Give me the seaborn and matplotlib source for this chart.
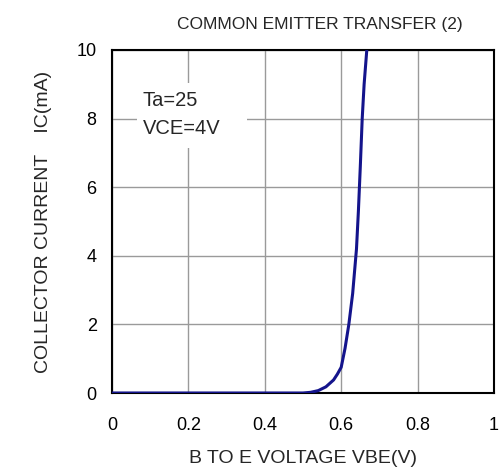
import matplotlib
matplotlib.use("Agg")
import matplotlib.pyplot as plt
import matplotlib.patches as mpatches
import seaborn as sns
import pandas as pd

vbe = [0.0, 0.50, 0.52, 0.54, 0.56, 0.58, 0.59, 0.60, 0.61, 0.62, 0.63, 0.64, 0.645, 0.65, 0.655, 0.66, 0.667]
ic = [0.0, 0.0, 0.02, 0.07, 0.18, 0.38, 0.55, 0.75, 1.3, 2.0, 2.9, 4.2, 5.3, 6.6, 8.0, 9.0, 10.0]
xticks = [0, 0.2, 0.4, 0.6, 0.8, 1]
xticklabels = ["0", "0.2", "0.4", "0.6", "0.8", "1"]
yticks = [0, 2, 4, 6, 8, 10]

sns.set_style("white")
plt.rcParams['font.family'] = ['Liberation Sans', 'DejaVu Sans']

df = pd.DataFrame({"VBE": vbe, "IC": ic})
fig = plt.figure(figsize=(5.03, 4.75), dpi=100)
ax = fig.add_axes([112/503, 1 - 393/475, (494-112)/503, (393-50)/475])
sns.lineplot(data=df, x="VBE", y="IC", ax=ax, color="#14148c", linewidth=2.2, sort=False, zorder=3)
ax.set_xlim(0, 1)
ax.set_ylim(0, 10)
ax.set_xticks(xticks)
ax.set_xticklabels(xticklabels)
ax.set_yticks(yticks)
ax.grid(True, color="#9a9a9a", linewidth=1)
ax.tick_params(direction="in", length=6, width=1, colors="black", labelsize=13, pad=17)
ax.tick_params(axis="y", pad=11)
for s in ax.spines.values():
    s.set_color("black")
    s.set_linewidth(1.5)
ax.set_xlabel("B TO E VOLTAGE VBE(V)", fontsize=14, labelpad=12)
ax.set_ylabel("COLLECTOR CURRENT    IC(mA)", fontsize=14, labelpad=18)
ax.set_title("COMMON EMITTER TRANSFER (2)", fontsize=12.5, pad=15, x=0.545)
ax.add_patch(mpatches.Rectangle((0.065, 0.714), 0.288, 0.19, transform=ax.transAxes,
                                facecolor="white", edgecolor="none", zorder=2))
ax.text(0.081, 0.88, "Ta=25\nVCE=4V", transform=ax.transAxes, fontsize=14.5, va="top", ha="left",
        linespacing=1.6, zorder=3)
fig.savefig("out.png", dpi=100)
